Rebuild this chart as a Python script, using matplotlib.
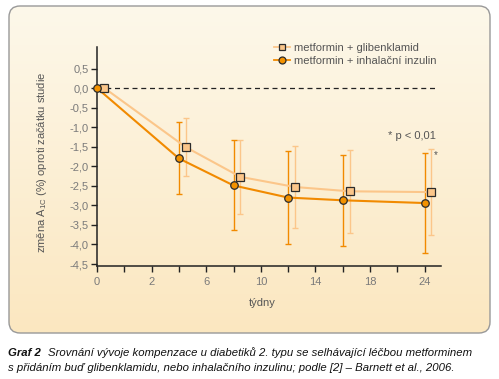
import matplotlib
matplotlib.use('Agg')
import matplotlib.pyplot as plt
import numpy as np
from matplotlib.patches import FancyBboxPatch
from matplotlib.lines import Line2D

plt.rcParams['font.family'] = ['Liberation Sans', 'DejaVu Sans']

# tick labels on the (non-linear) week axis
week_labels = [0, 2, 6, 10, 14, 18, 24]
weeks = [0, 4, 8, 12, 16, 24]

# metformin + glibenklamid (squares)
glib_mean = [0.0, -1.51, -2.27, -2.53, -2.64, -2.66]
glib_err = [0.0, 0.75, 0.95, 1.05, 1.06, 1.10]

# metformin + inhalacni inzulin (circles)
inz_mean = [0.0, -1.80, -2.49, -2.80, -2.87, -2.94]
inz_err = [0.0, 0.92, 1.15, 1.20, 1.16, 1.27]

yticks = [0.5, 0.0, -0.5, -1.0, -1.5, -2.0, -2.5, -3.0, -3.5, -4.0, -4.5]

W, H = 499, 379
fig = plt.figure(figsize=(W / 100, H / 100), dpi=100)

# rounded panel with vertical gradient
bg = fig.add_axes([0, 0, 1, 1])
bg.set_xlim(0, W)
bg.set_ylim(H, 0)
bg.axis('off')
panel = FancyBboxPatch((9, 6), 481, 327, boxstyle='round,pad=0,rounding_size=11',
                       facecolor='none', edgecolor='#999999', linewidth=1.0, zorder=2)
bg.add_patch(panel)
top = np.array([253, 248, 234]) / 255
bot = np.array([251, 231, 192]) / 255
t = np.linspace(0, 1, 200)[:, None]
grad = (top[None, :] * (1 - t) + bot[None, :] * t)[:, None, :]
im = bg.imshow(grad, extent=(9, 490, 333, 6), aspect='auto', zorder=1)
im.set_clip_path(panel)

# positions: labelled ticks sit every second tick, evenly spaced
pos_labels = np.arange(0, 2 * len(week_labels), 2)
x = np.interp(weeks, week_labels, pos_labels)
xs = x + np.where(np.array(weeks) == 0, 0.27, 0.25)

ax = fig.add_axes([97 / W, 1 - 266 / H, (441 - 97) / W, (266 - 47) / H])
ax.set_facecolor('none')
ax.set_xlim(0, 12.6)
ax.set_ylim(-4.55, 1.05)

dark = '#f18a00'
light = '#fbc68a'

ax.plot([0, 12.45], [0, 0], color='#222222', lw=0.9, ls=(0, (4, 3)), zorder=1)

ax.errorbar(xs[1:], glib_mean[1:], yerr=glib_err[1:], fmt='none', ecolor=light,
            elinewidth=1.0, capsize=2.5, capthick=1.0, zorder=2)
ax.errorbar(x[1:], inz_mean[1:], yerr=inz_err[1:], fmt='none', ecolor=dark,
            elinewidth=1.0, capsize=2.5, capthick=1.0, zorder=3)
ax.plot(xs, glib_mean, color=light, lw=1.5, zorder=4)
ax.plot(x, inz_mean, color=dark, lw=1.5, zorder=5)
ax.plot(xs, glib_mean, ls='none', marker='s', ms=5.4, mfc='#fbc68a', mec='#2a2a2a', mew=0.9, zorder=6)
ax.plot(x, inz_mean, ls='none', marker='o', ms=5.4, mfc='#f39200', mec='#2a2a2a', mew=0.9, zorder=7,
        clip_on=False)

for s in ['top', 'right']:
    ax.spines[s].set_visible(False)
for s in ['left', 'bottom']:
    ax.spines[s].set_color('#222222')
    ax.spines[s].set_linewidth(1.1)

ax.set_xticks(np.arange(0, 13))
ax.set_xticklabels([str(week_labels[i // 2]) if i % 2 == 0 else '' for i in range(13)])
ax.set_yticks(yticks)
ax.set_yticklabels([('%.1f' % v).replace('.', ',') for v in yticks])
ax.tick_params(axis='both', colors='#222222', labelcolor='#7a7a7a', labelsize=8,
               length=4, width=1.0, direction='out')
ax.tick_params(axis='x', pad=4)
ax.tick_params(axis='y', pad=2)

fig.text(42 / W, 1 - 162 / H, 'změna A$_{\\mathregular{1C}}$ (%) oproti začátku studie',
         rotation=90, ha='center', va='center', fontsize=8, color='#555555')
fig.text(262 / W, 1 - 303 / H, 'týdny', ha='center', va='center', fontsize=8, color='#555555')

handles = [Line2D([], [], color=light, lw=1.3, marker='s', ms=5, mfc='#fbc68a', mec='#2a2a2a', mew=0.9),
           Line2D([], [], color=dark, lw=1.3, marker='o', ms=5, mfc='#f39200', mec='#2a2a2a', mew=0.9)]
leg = fig.legend(handles, ['metformin + glibenklamid', 'metformin + inhalační inzulin'],
                 loc='upper left', bbox_to_anchor=(274 / W, 1 - 43 / H), frameon=False,
                 fontsize=8, handlelength=1.4, handletextpad=0.4, labelspacing=0.3,
                 borderpad=0, borderaxespad=0)
for txt in leg.get_texts():
    txt.set_color('#555555')

fig.text(436 / W, 1 - 136 / H, '* p < 0,01', ha='right', va='center', fontsize=8, color='#555555')
fig.text(436 / W, 1 - 155 / H, '*', ha='center', va='center', fontsize=7, color='#555555')

fig.text(8 / W, 1 - 353 / H, 'Graf 2', ha='left', va='center', fontsize=8.2, style='italic',
         weight='bold', color='#111111')
fig.text(48 / W, 1 - 353 / H,
         'Srovnání vývoje kompenzace u diabetiků 2. typu se selhávající léčbou metforminem',
         ha='left', va='center', fontsize=8.2, style='italic', color='#111111')
fig.text(8 / W, 1 - 368 / H,
         's přidáním buď glibenklamidu, nebo inhalačního inzulinu; podle [2] – Barnett et al., 2006.',
         ha='left', va='center', fontsize=8.2, style='italic', color='#111111')

fig.savefig('out.png', dpi=100)
